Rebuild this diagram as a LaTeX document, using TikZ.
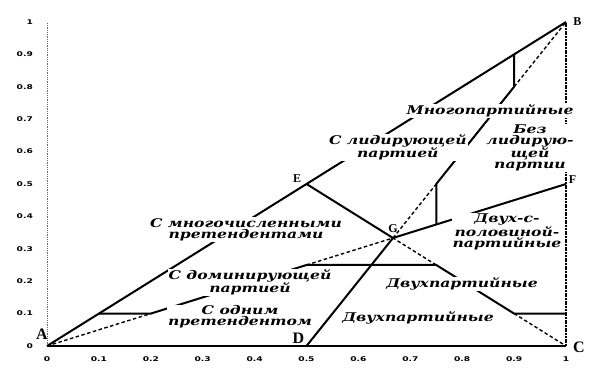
\documentclass[tikz,border=0pt]{standalone}
\usepackage{fontspec}
\newfontfamily\zonefont{DejaVu Serif}[FakeStretch=1.3]
\newfontfamily\tickfont{DejaVu Sans}[FakeStretch=1.4]
\newfontfamily\ptfont{Liberation Serif}
\usetikzlibrary{positioning}
\tikzset{
  edge/.style={line width=2pt, black},
  hidden/.style={line width=1.4pt, black, dash pattern=on 3.5pt off 2.5pt},
  border/.style={line width=2.2pt, black, dash pattern=on 2pt off 0.7pt},
  axis/.style={line width=0.6pt, black!60, dash pattern=on 0.8pt off 1pt},
  zone/.style={fill=white, inner sep=1pt, align=center,
               font=\zonefont\bfseries\itshape\fontsize{12}{11}\selectfont},
  tick/.style={font=\tickfont\bfseries\fontsize{6.5}{7}\selectfont, inner sep=1pt},
  vertex/.style={font=\ptfont\bfseries\fontsize{16}{16}\selectfont, inner sep=0pt},
  svertex/.style={font=\ptfont\bfseries\fontsize{12}{12}\selectfont, inner sep=0pt},
}

\begin{document}
\begin{tikzpicture}[x=519pt, y=324pt]
  \useasboundingbox (-0.0906,-0.0895) rectangle (1.0655,1.0679);
  % corners and crossing points
  \coordinate (A) at (0,0);
  \coordinate (B) at (1,1);
  \coordinate (C) at (1,0);
  \coordinate (D) at (0.5,0);
  \coordinate (E) at (0.5,0.5);
  \coordinate (F) at (1,0.5);
  \coordinate (G) at (2/3,1/3);
  \coordinate (top) at (0,1);
  \coordinate (ab1) at (0.1,0.1);
  \coordinate (af1) at (0.2,0.1);
  \coordinate (af2) at (0.5,0.25);
  \coordinate (ec1) at (0.75,0.25);
  \coordinate (ec2) at (0.9,0.1);
  \coordinate (cr) at (1,0.1);
  \coordinate (gf1) at (0.75,0.375);
  \coordinate (db1) at (0.75,0.5);
  \coordinate (db2) at (0.9,0.8);
  \coordinate (ab2) at (0.9,0.9);

  % axes
  \draw[axis] (A) -- (top);
  \foreach \v [count=\i] in {0,0.1,0.2,0.3,0.4,0.5,0.6,0.7,0.8,0.9,1} {
    \node[tick, anchor=east] (yt\i) at (-0.025,\v) {\v};
    \node[tick] (xt\i) at (\v,-0.04) {\v};
  }

  % boundaries
  \draw[edge] (A) -- (B);
  \draw[edge] (A) -- (C);
  \draw[border] (C) -- (B);
  \draw[edge] (E) -- (G) (G) -- (F) (D) -- (G);
  \draw[edge, line join=round] (ab1) -- (af1) -- (af2) -- (ec1) -- (ec2) -- (cr);
  \draw[edge, line join=round] (gf1) -- (db1) -- (db2) -- (ab2);
  \draw[hidden] (A) -- (af1) (af2) -- (G) -- (ec1) (ec2) -- (C)
    (G) -- (db1) (db2) -- (B);

  % zones
  \node[zone] (multi) at (0.8536,0.7253) {Многопартийные};
  \node[zone] (lead) at (0.676,0.6127) {С лидирующей\\партией};
  \node[zone] (nolead) at (0.9306,0.611) {Без\\лидирую-\\щей\\партии};
  \node[zone] (twohalf) at (0.8863,0.3519) {Двух-с-\\половиной-\\партийные};
  \node[zone] (many) at (0.3834,0.3596) {С многочисленными\\претендентами};
  \node[zone] (dom) at (0.3911,0.196) {С доминирующей\\партией};
  \node[zone] (one) at (0.3719,0.0895) {С одним\\претендентом};
  \node[zone] (twoup) at (0.7996,0.1914) {Двухпартийные};
  \node[zone] (twolow) at (0.7148,0.0864) {Двухпартийные};

  % point labels
  \node[vertex] (lA) at (-0.01,0.036) {A};
  \node[svertex] (lB) at (1.022,1.0) {B};
  \node[vertex] (lC) at (1.025,-0.003) {C};
  \node[vertex] (lD) at (0.4845,0.025) {D};
  \node[svertex] (lE) at (0.4817,0.5154) {E};
  \node[svertex] (lF) at (1.0125,0.5123) {F};
  \node[svertex] (lG) at (0.6667,0.3611) {G};
\end{tikzpicture}
\end{document}
